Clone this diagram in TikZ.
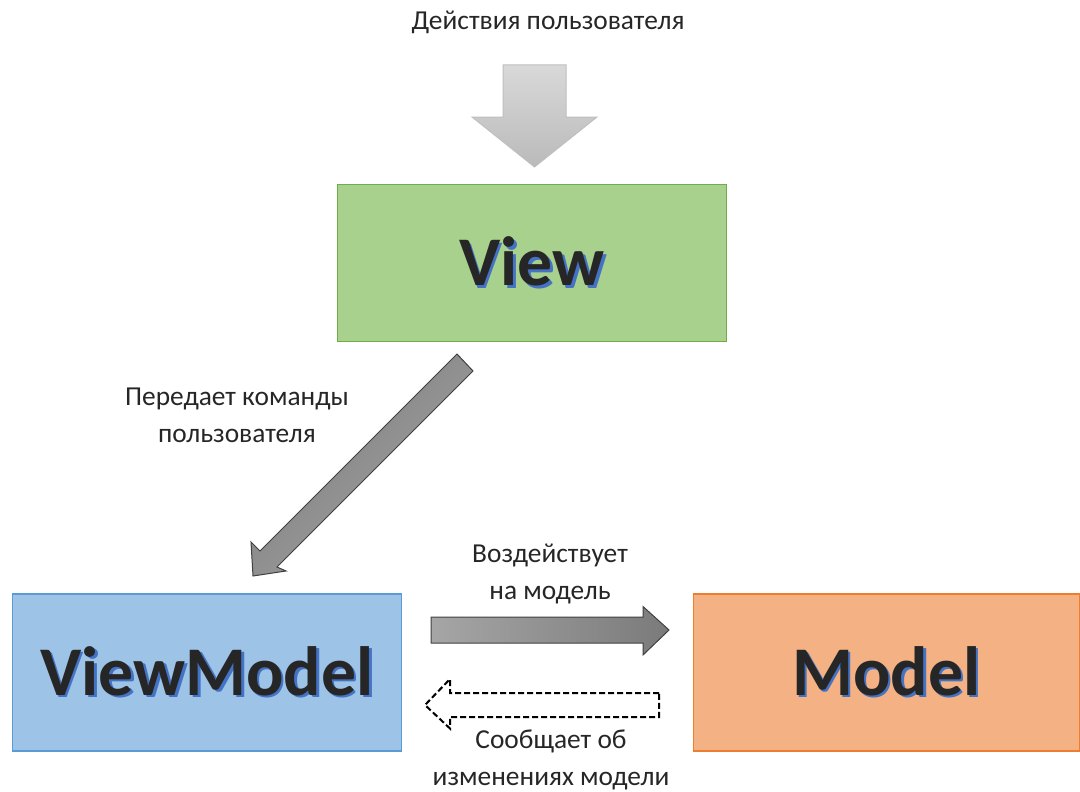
\documentclass[tikz,border=0pt]{standalone}
\usepackage{fontspec}
\setmainfont{Carlito}
\usetikzlibrary{positioning}
\definecolor{viewfill}{HTML}{A9D18E}
\definecolor{viewline}{HTML}{70AD47}
\definecolor{vmfill}{HTML}{9DC3E6}
\definecolor{vmline}{HTML}{5B9BD5}
\definecolor{modfill}{HTML}{F4B183}
\definecolor{modline}{HTML}{ED7D31}
\definecolor{shadowblue}{HTML}{4472C4}
\definecolor{darktext}{HTML}{262626}
\newcommand{\shadowed}[1]{\rlap{\kern2.5bp\raisebox{-2.5bp}{\color{shadowblue}#1}}#1}
\begin{document}
\begin{tikzpicture}[x=1bp, y=-1bp,
		box/.style={draw, line width=1.2bp, minimum width=389bp, minimum height=157bp, inner sep=0pt},
		bigtext/.style={font=\fontsize{70}{72}\selectfont\bfseries, text=darktext},
		note/.style={font=\fontsize{27.5}{37}\selectfont, text=darktext, align=center},
		blockarrow/.style={line width=1bp, line join=miter}]
	\useasboundingbox (0,0) rectangle (1080,792);
	
	%boxes
	\node[box, draw=viewline, fill=viewfill] (view) at (532, 263) {};
	\node[box, draw=vmline, fill=vmfill] (vm) at (207, 672.5) {};
	\node[box, draw=modline, fill=modfill, minimum width=386bp] (model) at (886.5, 672.5) {};
	
	%box titles with shadow
	\node[bigtext] (viewtitle) at (view.center) {\shadowed{View}};
	\node[bigtext] (vmtitle) at (vm.center) {\shadowed{ViewModel}};
	\node[bigtext] (modeltitle) at (model.center) {\shadowed{Model}};
	
	%user actions
	\node[note] (actions) at (548, 22) {Действия пользователя};
	\draw[blockarrow, draw=black!25, top color=black!15, bottom color=black!27]
		(503,65) -- (566,65) -- (566,117) -- (597,117) -- (534.5,167)
		-- (472,117) -- (503,117) -- cycle;
	
	%view -> viewmodel
	\node[note] (commands) at (237, 415) {Передает команды\\пользователя};
	\draw[blockarrow, draw=black!75, left color=black!52, right color=black!35, shading angle=45]
		(457,354) -- (473,371) -- (277,567) -- (286,571) -- (253,576)
		-- (251,542) -- (260,551) -- cycle;
	
	%viewmodel -> model
	\node[note] (acts) at (550, 574) {Воздействует\\на модель};
	\draw[blockarrow, draw=black!75, left color=black!35, right color=black!52]
		(431,617) -- (643,617) -- (643,606.5) -- (669,630) -- (643,655)
		-- (643,643) -- (431,643) -- cycle;
	
	%model -> viewmodel
	\node[note] (notify) at (551, 760) {Сообщает об\\изменениях модели};
	\draw[blockarrow, dash pattern=on 6bp off 3bp, line width=2bp, fill=white]
		(659,693) -- (450,693) -- (450,679) -- (425,705) -- (450,728.5)
		-- (450,717) -- (659,717) -- cycle;
\end{tikzpicture}
\end{document}
